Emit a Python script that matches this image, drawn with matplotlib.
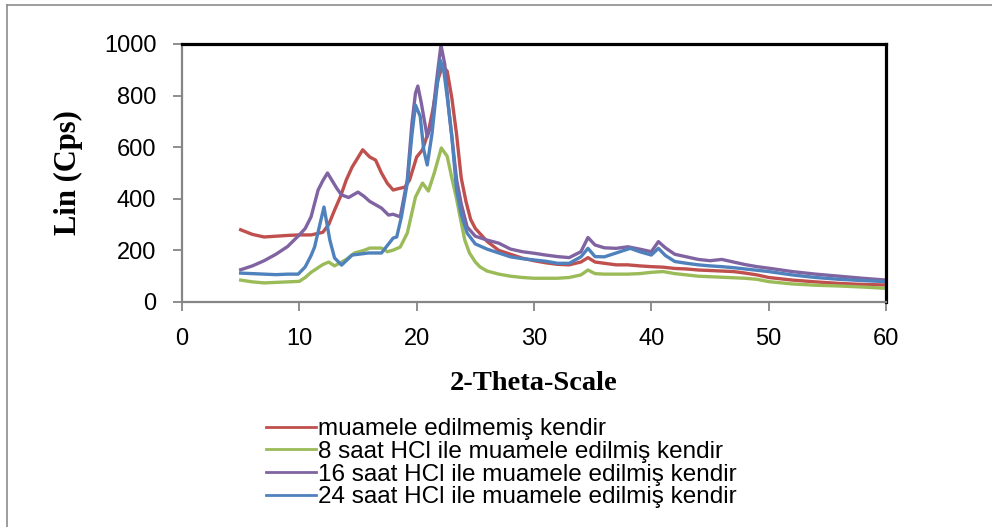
import matplotlib
matplotlib.use("Agg")
import matplotlib.pyplot as plt
from matplotlib.lines import Line2D

# ---------------- data ----------------
red_x = [5, 6, 7, 8, 9, 10, 11, 12, 12.5, 13, 13.5, 14, 14.5, 15, 15.4, 16, 16.5, 17, 17.5, 18, 18.5, 19, 19.4,
         20, 20.5, 21, 21.4, 21.8, 22.2, 22.6, 23, 23.4, 23.8, 24.2, 24.6, 25, 25.5, 26, 27, 28, 29, 30, 31, 32,
         33, 34, 34.6, 35.2, 36, 37, 38, 39, 40, 41, 42, 43, 44, 45, 46, 47, 48, 49, 50, 52, 54, 56, 58, 60]
red_y = [280, 262, 252, 255, 258, 260, 260, 270, 300, 356, 408, 473, 523, 560, 590, 562, 550, 500, 460, 434, 440,
         445, 473, 562, 590, 660, 750, 860, 915, 895, 790, 650, 480, 390, 320, 285, 260, 235, 200, 185, 170, 160,
         152, 146, 144, 155, 172, 155, 150, 144, 144, 140, 137, 135, 130, 128, 124, 122, 120, 118, 112, 105, 95,
         85, 78, 72, 68, 66]

green_x = [5, 6, 7, 8, 9, 10, 10.5, 11, 11.5, 12, 12.5, 13, 13.6, 14, 14.7, 15.5, 16, 17, 17.5, 18, 18.6, 19.2,
           19.9, 20.5, 21, 21.5, 22.1, 22.6, 23, 23.4, 23.7, 24.1, 24.5, 25, 25.4, 26, 27, 28, 29, 30, 31, 32, 33,
           34, 34.6, 35.2, 36, 37, 38, 39, 40, 41, 42, 43, 44, 45, 46, 47, 48, 49, 50, 52, 54, 56, 58, 60]
green_y = [85, 78, 74, 76, 78, 80, 95, 115, 130, 145, 155, 140, 155, 165, 190, 200, 209, 209, 195, 201, 213, 267,
           407, 461, 430, 500, 597, 565, 480, 400, 330, 240, 190, 155, 136, 120, 108, 100, 95, 92, 92, 92, 95, 105,
           124, 110, 108, 108, 108, 110, 115, 118, 110, 105, 100, 98, 96, 94, 92, 88, 79, 70, 65, 62, 58, 53]

purple_x = [5, 6, 7, 8, 9, 10, 10.5, 11, 11.6, 12, 12.4, 12.8, 13.2, 13.6, 14.2, 15, 15.5, 16, 17, 17.6, 18,
            18.6, 19.2, 19.6, 19.9, 20.1, 20.4, 20.9, 21.3, 21.7, 22.07, 22.4, 22.7, 23.0, 23.4, 23.8, 24.3, 25,
            26, 27, 28, 29, 30, 31, 32, 33, 34, 34.6, 35.2, 36, 37, 38, 39, 40, 40.6, 41.2, 42, 43, 44, 45, 46,
            47, 48, 49, 50, 52, 54, 56, 58, 60]
purple_y = [125, 140, 160, 185, 215, 260, 285, 330, 434, 470, 500, 470, 440, 415, 405, 426, 410, 390, 364, 337,
            340, 330, 473, 694, 810, 837, 770, 640, 700, 860, 996, 920, 760, 640, 475, 380, 291, 255, 240, 228,
            205, 195, 189, 182, 176, 172, 195, 250, 221, 210, 208, 214, 205, 195, 234, 210, 185, 175, 165, 160,
            165, 155, 145, 137, 131, 118, 108, 100, 92, 85]

blue_x = [5, 6, 7, 8, 9, 9.9, 10.5, 11, 11.3, 11.7, 12.1, 12.6, 13.0, 13.6, 14.5, 15.9, 17, 18, 18.3, 18.7, 19.2,
          19.6, 19.9, 20.3, 20.6, 20.9, 21.3, 21.7, 22.0, 22.3, 22.7, 23.0, 23.4, 23.8, 24.3, 25, 26, 27, 28, 29,
          30, 31, 32, 33, 34, 34.6, 35.2, 36, 37, 38, 38.2, 39, 40, 40.6, 41.2, 42, 43, 44, 45, 46, 47, 48, 49,
          50, 52, 54, 56, 58, 60]
blue_y = [112, 110, 108, 106, 108, 108, 136, 180, 213, 291, 368, 240, 171, 143, 182, 190, 190, 248, 252, 330, 461,
          650, 763, 720, 590, 531, 650, 820, 938, 900, 760, 640, 434, 340, 267, 225, 205, 190, 175, 168, 163, 158,
          150, 150, 175, 208, 176, 175, 190, 205, 208, 195, 182, 208, 180, 157, 150, 144, 140, 137, 133, 128, 123,
          118, 105, 95, 88, 83, 79]

series_labels = ["muamele edilmemiş kendir",
                 "8 saat HCl ile muamele edilmiş kendir",
                 "16 saat HCl ile muamele edilmiş kendir",
                 "24 saat HCl ile muamele edilmiş kendir"]
series_colors = ["#C0504D", "#9BBB59", "#8064A2", "#4F81BD"]

x_ticks = [0, 10, 20, 30, 40, 50, 60]
y_ticks = [0, 200, 400, 600, 800, 1000]
x_label = "2-Theta-Scale"
y_label = "Lin (Cps)"

# ---------------- fonts ----------------
sans = "Liberation Sans"
serif = "Liberation Serif"

W, H = 992, 527
fig = plt.figure(figsize=(W / 100, H / 100), dpi=100)
ax = fig.add_axes([182 / W, 1 - 302 / H, (886 - 182) / W, (302 - 44) / H])

series = [(red_x, red_y), (green_x, green_y), (purple_x, purple_y), (blue_x, blue_y)]
for (xs, ys), lab, col in zip(series, series_labels, series_colors):
    ax.plot(xs, ys, color=col, lw=2.4, label=lab, solid_joinstyle="round")

ax.set_xlim(0, 60)
ax.set_ylim(0, 1000)
ax.set_xticks(x_ticks)
ax.set_yticks(y_ticks)
ax.set_xticklabels([str(v) for v in x_ticks], fontfamily=sans, fontsize=17)
ax.set_yticklabels([str(v) for v in y_ticks], fontfamily=sans, fontsize=17)
ax.tick_params(axis="both", direction="out", length=6.5, width=1.3, color="#868686", pad=12)

for s in ("top", "right"):
    ax.spines[s].set_color("black")
    ax.spines[s].set_linewidth(2.3)
for s in ("left", "bottom"):
    ax.spines[s].set_color("#868686")
    ax.spines[s].set_linewidth(1.6)

fig.text(68 / W, 1 - 173 / H, y_label, rotation=90, ha="center", va="center",
         fontfamily=serif, fontweight="bold", fontsize=22)
fig.text(534 / W, 1 - 383 / H, x_label, ha="center", va="center",
         fontfamily=serif, fontweight="bold", fontsize=20.5)

leg = fig.legend(loc="upper left", bbox_to_anchor=(266 / W, 1 - 418 / H), frameon=False,
                 prop={"family": sans, "size": 17.5}, handlelength=2.06, handletextpad=0.08,
                 labelspacing=0.03, borderpad=0, borderaxespad=0)
for h in leg.get_lines():
    h.set_linewidth(2.0)

# outer gray frame (only left and top visible)
fig.add_artist(Line2D([7 / W, 7 / W], [0, 1 - 5 / H], transform=fig.transFigure, color="#8c8c8c", lw=1.2))
fig.add_artist(Line2D([7 / W, 1], [1 - 5 / H, 1 - 5 / H], transform=fig.transFigure, color="#8c8c8c", lw=1.2))

fig.savefig("out.png", dpi=100)
